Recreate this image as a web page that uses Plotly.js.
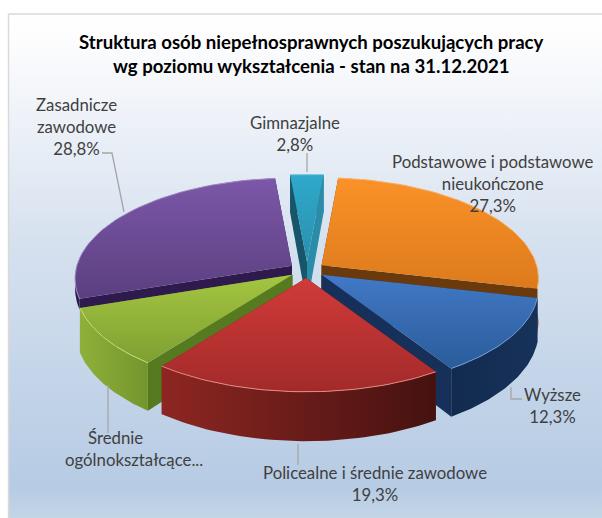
<!DOCTYPE html>
<html><head><meta charset="utf-8">
<script src="https://cdn.plot.ly/plotly-3.0.1.min.js"></script>
<style>html,body{margin:0;padding:0;background:#fff}#c{width:602px;height:518px}</style>
</head><body><div id="c"></div>
<script>
// ---- data (slice order, clockwise from the first-slice angle)
const categories = ["Podstawowe i podstawowe nieukończone","Wyższe","Policealne i średnie zawodowe","Średnie ogólnokształcące","Zasadnicze zawodowe","Gimnazjalne"];
const values = [27.3,12.3,19.3,9.5,28.8,2.8];
const topColors = [["#fb9228","#dc7a1c"],["#4279c6","#2a5c9a"],["#d03b39","#a32a2a"],["#a4c641","#7f9f32"],["#7c57a8","#5b3f80"],["#2fa9ca","#2a8fae"]];
const rimColors = [["#6e3c0c","#6e3c0c"],["#122a4e","#17325a"],["#8e2622","#451210"],["#8fb03a","#74952c"],["#2e1a4c","#2e1a4c"],["#1c6076","#1c6076"]];
const cutColors = ["#6b3a0c","#16305a","#6a1c18","#567a20","#2e1a4c","#17566a"];
const edgeColors = ["#fbb56e","#6f9ad6","#e88a86","#c8de80","#a48cc6","#7fcfe2"];
const wallDepths = [43,43,43,43,10,43];
const drawOrder = [5,4,0,3,1,2];

const chart = {cx:307, cy:270, rx:215, ry:99, persp:0.13, exX:18, exY:8, start:5};
const rad = d => d*Math.PI/180;
function pt(deg, r, ax, ay, depth){
  const u=r*Math.sin(rad(deg)), v=-r*Math.cos(rad(deg)), s=1/(1-chart.persp*v);
  return [ax+chart.rx*u*s, ay+chart.ry*v*s+depth*s];
}
function poly(pts, scale, type){
  return {x:pts.map(p=>p[0]),y:pts.map(p=>p[1]),mode:'lines',fill:'toself',line:{width:0},
    fillcolor:scale[0][1],fillgradient:{type:type,colorscale:scale},hoverinfo:'skip',showlegend:false};
}
// the y axis is reversed, so a vertical gradient runs bottom-to-top in stop order
const vert = g => [[0,g[1]],[1,g[0]]];
const horiz = g => [[0,g[0]],[1,g[1]]];
function lineTrace(pts,color,w){
  return {x:pts.map(p=>p[0]),y:pts.map(p=>p[1]),mode:'lines',line:{color:color,width:w},hoverinfo:'skip',showlegend:false};
}
const total = values.reduce((a,b)=>a+b,0);
let acc = chart.start;
const slices = values.map(v=>{const a0=acc,a1=acc+v/total*360;acc=a1;return {a0,a1};});

const traces = [];
// chart area background
traces.push(Object.assign(poly([[8.5,14],[606,14],[606,522],[8.5,522],[8.5,14]],
  [[0,'#c5d7e7'],[0.07,'#b6cbe4'],[0.55,'#d6e1ef'],[0.95,'#fdfdfe'],[1,'#ffffff']],'vertical'),{line:{color:'#d9d9d9',width:1.5}}));

drawOrder.forEach(i=>{
  const {a0,a1}=slices[i], m=(a0+a1)/2, d=wallDepths[i];
  const ax=chart.cx+chart.exX*Math.sin(rad(m)), ay=chart.cy-chart.exY*Math.cos(rad(m));
  const arc=[],arcD=[];
  for(let k=0;k<=48;k++){const a=a0+(a1-a0)*k/48;arc.push(pt(a,1,ax,ay,0));arcD.push(pt(a,1,ax,ay,d));}
  const apex=[ax,ay], apexD=[ax,ay+d];
  const n=arc.length-1;
  const cutCols = i===5 ? ["#17566a","#2a8ca8"] : [cutColors[i],cutColors[i]];
  const cut0=poly([arc[0],apex,apexD,arcD[0],arc[0]],horiz([cutCols[0],cutCols[0]]),'vertical');
  const cut1=poly([arc[n],apex,apexD,arcD[n],arc[n]],horiz([cutCols[1],cutCols[1]]),'vertical');
  const rim=poly(arc.concat(arcD.slice().reverse(),[arc[0]]),horiz(rimColors[i]),'horizontal');
  // slices at the back show their cut faces in front of the rim; front slices the reverse
  if(Math.cos(rad(m))>0) traces.push(rim,cut0,cut1); else traces.push(cut0,cut1,rim);
  traces.push(poly([apex].concat(arc,[apex]),vert(topColors[i]),'vertical'));
  traces.push(lineTrace(arc,edgeColors[i],1));
});

// leader lines
const leader = [
  [[102,153],[112,153],[124,212]],
  [[307,153],[307,172]],
  [[511,387],[511,399],[522,399]],
  [[108,385],[108,433]],
  [[298,444],[298,465]]
];
leader.forEach(l=>traces.push(lineTrace(l,'#a6a6a6',1.3)));

const labelFont = {family:'Lato, Carlito, sans-serif',size:16.8,color:'#404040'};
const labels = [
  ["Zasadnicze<br>zawodowe<br>28,8%",76,126],
  ["Gimnazjalne<br>2,8%",295,133],
  ["Podstawowe i podstawowe<br>nieukończone<br>27,3%",493,183],
  ["Wyższe<br>12,3%",552,405],
  ["Średnie",115,437],
  ["ogólnokształcące...",134,459],
  ["Policealne i średnie zawodowe<br>19,3%",375,483]
];
const titleLines = ["Struktura osób niepełnosprawnych poszukujących pracy","wg poziomu wykształcenia - stan na 31.12.2021"];
const layout = {
  width:602,height:518,margin:{l:0,r:0,t:0,b:0},
  paper_bgcolor:'#fff',plot_bgcolor:'rgba(0,0,0,0)',showlegend:false,
  xaxis:{range:[0,602],visible:false,fixedrange:true},
  yaxis:{range:[518,0],visible:false,fixedrange:true},
  annotations:labels.map(l=>({text:l[0],x:l[1],y:l[2],xref:'x',yref:'y',showarrow:false,font:labelFont,align:'center',xanchor:'center',yanchor:'middle'})).concat(
    titleLines.map((t,k)=>({text:"<b>"+t+"</b>",x:311.5,y:42+24*k,xref:'x',yref:'y',showarrow:false,align:'center',xanchor:'center',yanchor:'middle',
     font:{family:'Lato, Carlito, sans-serif',size:18.6,color:'#000'}})))
};
Plotly.newPlot('c',traces,layout,{displayModeBar:false,staticPlot:true});
</script></body></html>
